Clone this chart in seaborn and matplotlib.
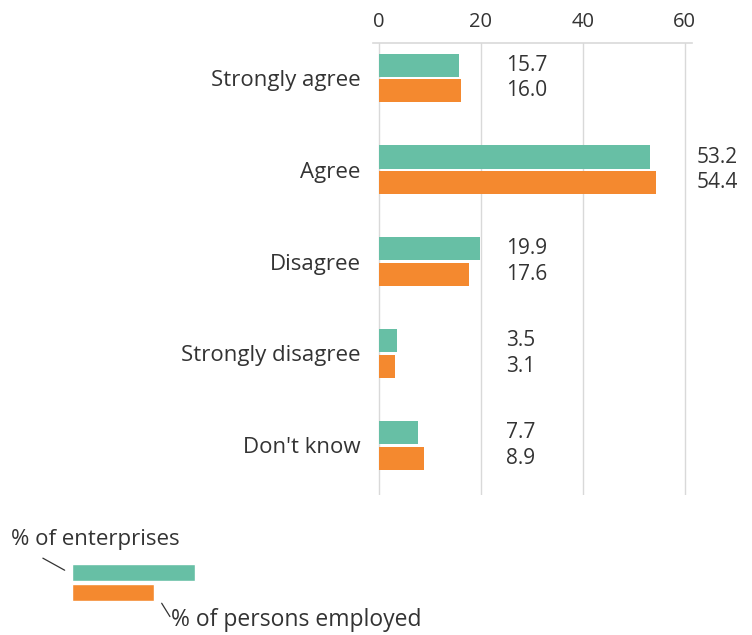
import numpy as np
import pandas as pd
import matplotlib
matplotlib.use('Agg')
import matplotlib.pyplot as plt
import seaborn as sns

# 데이터
categories = ['Strongly agree', 'Agree', 'Disagree', 'Strongly disagree', "Don't know"]
enterprises = [15.7, 53.2, 19.9, 3.5, 7.7]
persons = [16.0, 54.4, 17.6, 3.1, 8.9]
series_names = ['% of enterprises', '% of persons employed']
legend_sample = [24.3, 16.2]   # 범례용 막대 길이
xticks = [0, 20, 40, 60]

teal = '#67bfa5'
orange = '#f4892f'
txt = '#333333'

sns.set_theme(style='white')
plt.rcParams['font.family'] = ['Open Sans', 'DejaVu Sans']

df = pd.DataFrame({
    'category': categories * 2,
    'value': enterprises + persons,
    'series': [series_names[0]] * 5 + [series_names[1]] * 5,
})

fig = plt.figure(figsize=(7.52, 6.35), dpi=100)
ax = fig.add_axes([0.496, 0.22, 0.424, 0.712])

sns.barplot(data=df, y='category', x='value', hue='series', orient='h',
            palette=[teal, orange], width=0.56, gap=0.1, saturation=1,
            linewidth=0, legend=False, ax=ax)

ax.set_xlim(-1.18, 61.4)
ax.set_ylim(4.545, -0.38)
ax.set_xticks(xticks)
ax.xaxis.tick_top()
ax.tick_params(axis='x', length=0, pad=8, labelsize=14.5, colors=txt)
ax.tick_params(axis='y', length=0, pad=9, labelsize=16, colors=txt)
ax.set_xlabel('')
ax.set_ylabel('')
for x in xticks:
    ax.axvline(x, color='#d9d9d9', lw=1, zorder=0)
for s in ['right', 'bottom', 'left']:
    ax.spines[s].set_visible(False)
ax.spines['top'].set_color('#d9d9d9')
ax.spines['top'].set_linewidth(1.2)

# 값 라벨
off = 0.56 / 4
for i, (a, b) in enumerate(zip(enterprises, persons)):
    top = max(a, b)
    lx = 25.0 if top < 25 else top + 8
    ax.text(lx, i - off, f'{a:.1f}', va='center', ha='left', fontsize=15, color=txt)
    ax.text(lx, i + off, f'{b:.1f}', va='center', ha='left', fontsize=15, color=txt)

# 범례 (손으로 그림)
lax = fig.add_axes([0.0957, 0.05, 0.5, 0.065])
lax.barh([0, 1], legend_sample, color=[teal, orange], height=0.82, left=0)
lax.set_xlim(0, 74.5)
lax.set_ylim(1.5, -0.5)
lax.axis('off')
fig.text(0.014, 0.150, series_names[0], fontsize=16, color=txt, va='center')
fig.text(0.227, 0.024, series_names[1], fontsize=16.5, color=txt, va='center')
fig.add_artist(plt.Line2D([0.057, 0.086], [0.121, 0.102], color=txt, lw=0.9))
fig.add_artist(plt.Line2D([0.215, 0.226], [0.05, 0.029], color=txt, lw=0.9))

fig.savefig('out.png', dpi=100)
